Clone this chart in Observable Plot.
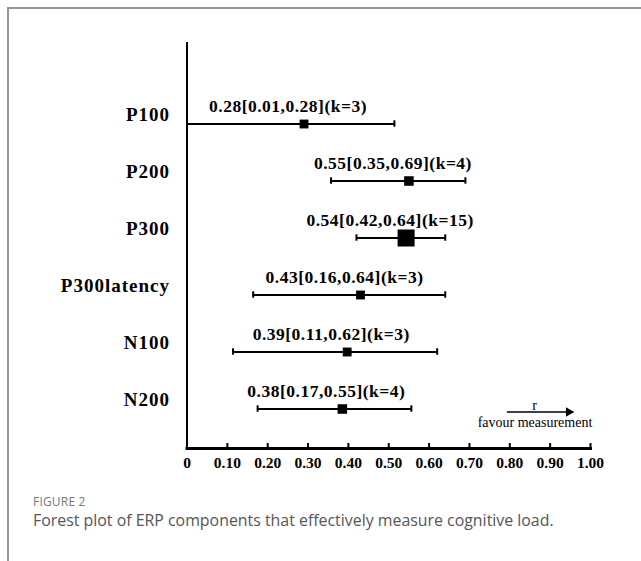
<!DOCTYPE html>
<html>
<head>
<meta charset="utf-8">
<script src="https://cdn.jsdelivr.net/npm/d3@7"></script>
<script src="https://cdn.jsdelivr.net/npm/@observablehq/plot@0.6"></script>
<style>
  html, body { margin: 0; padding: 0; background: #fff; }
  #page { position: relative; width: 641px; height: 561px; overflow: hidden; }
  #frame { position: absolute; left: 7px; top: 7px; right: -4px; bottom: -4px;
           border-top: 2px solid #959595; border-left: 2px solid #959595; }
  #chart { position: absolute; left: 0; top: 0; }
  #fig { position: absolute; left: 33px; top: 495px; font-family: "Open Sans", sans-serif;
         font-size: 12px; line-height: 14px; color: #777; letter-spacing: 0.2px; }
  #cap { position: absolute; left: 33px; top: 510px; font-family: "Open Sans", sans-serif;
         font-size: 15.9px; line-height: 20px; color: #555; white-space: nowrap; }
</style>
</head>
<body>
<div id="page">
  <div id="frame"></div>
  <div id="chart"></div>
  <div id="fig">FIGURE 2</div>
  <div id="cap">Forest plot of ERP components that effectively measure cognitive load.</div>
</div>
<script>
// ---- data ----
const components = ["P100", "P200", "P300", "P300latency", "N100", "N200"];
const estimates  = [0.29, 0.55, 0.543, 0.43, 0.397, 0.385];
const lowerCI    = [0.00, 0.357, 0.42, 0.164, 0.114, 0.175];
const upperCI    = [0.514, 0.69, 0.64, 0.64, 0.62, 0.556];
const kStudies   = [3, 4, 15, 3, 3, 4];
const annotations = [
  "0.28[0.01,0.28](k=3)",
  "0.55[0.35,0.69](k=4)",
  "0.54[0.42,0.64](k=15)",
  "0.43[0.16,0.64](k=3)",
  "0.39[0.11,0.62](k=3)",
  "0.38[0.17,0.55](k=4)"
];
const xTicks = [0, 0.1, 0.2, 0.3, 0.4, 0.5, 0.6, 0.7, 0.8, 0.9, 1.0];
const xTickLabels = ["0", "0.10", "0.20", "0.30", "0.40", "0.50", "0.60", "0.70", "0.80", "0.90", "1.00"];
const arrowLabel = "r";
const arrowCaption = "favour measurement";
const arrowFrom = [0.794];
const arrowTo = [0.946];

const rows = components.map((name, i) => ({
  name, est: estimates[i], lo: lowerCI[i], hi: upperCI[i], k: kStudies[i], label: annotations[i]
}));

const serif = "'Liberation Serif', 'Times New Roman', serif";
const capInset = 57.6 / 2 - 3.5;

const chart = Plot.plot({
  width: 641,
  height: 480,
  marginLeft: 186.5,
  marginRight: 51,
  marginTop: 42,
  marginBottom: 32,
  style: { fontFamily: serif, fontWeight: "bold", color: "black", background: "transparent" },
  x: { domain: [0, 1] },
  y: { type: "band", domain: components, range: [93.2, 438.8], padding: 0 },
  r: { type: "linear", domain: [3, 15], range: [5, 9.6] },
  marks: [
    Plot.frame({ anchor: "bottom", strokeWidth: 3, stroke: "black" }),
    Plot.ruleX([0], { strokeWidth: 2, stroke: "black" }),
    Plot.tickX(xTicks.slice(1), { x: d => d, insetTop: 401, strokeWidth: 2, stroke: "black" }),
    Plot.axisX({
      ticks: xTicks, tickSize: 0, tickPadding: 8, fontSize: 15.5, label: null,
      tickFormat: d => xTickLabels[xTicks.indexOf(d)]
    }),
    Plot.axisY({ tickSize: 0, tickPadding: 17, dy: -9, fontSize: 19, label: null }),
    Plot.ruleY(rows, { y: "name", x1: "lo", x2: "hi", strokeWidth: 2, stroke: "black" }),
    Plot.tickX(rows, { x: "lo", y: "name", insetTop: capInset, insetBottom: capInset, strokeWidth: 2, stroke: "black" }),
    Plot.tickX(rows, { x: "hi", y: "name", insetTop: capInset, insetBottom: capInset, strokeWidth: 2, stroke: "black" }),
    Plot.dot(rows, { x: "est", y: "name", r: "k", symbol: "square", fill: "black", stroke: null }),
    Plot.text(rows, { x: "est", y: "name", text: "label", dx: -16, dy: -18, fontSize: 17.5, fontWeight: "bold" }),
    Plot.ruleY(["N200"], { y: d => d, x1: () => arrowFrom[0], x2: () => arrowTo[0], dy: 3, strokeWidth: 1.5, stroke: "black" }),
    Plot.dot(["N200"], { y: d => d, x: () => arrowTo[0], dy: 3, symbol: "triangle", rotate: 90, r: 3.6, fill: "black", stroke: null }),
    Plot.text([arrowLabel], { text: d => d, frameAnchor: "bottom-right", textAnchor: "middle", lineAnchor: "middle", dx: -56, dy: -43, fontSize: 14, fontWeight: "normal" }),
    Plot.text([arrowCaption], { text: d => d, frameAnchor: "bottom-right", textAnchor: "middle", lineAnchor: "middle", dx: -55.5, dy: -26, fontSize: 14, fontWeight: "normal" })
  ]
});

document.getElementById("chart").appendChild(chart);
const svg = d3.select(chart);
svg.selectAll("text").filter(function() {
  return annotations.includes(this.textContent);
}).style("letter-spacing", "0.5px");
svg.selectAll("text").filter(function() {
  return components.includes(this.textContent);
}).style("letter-spacing", "1px");
</script>
</body>
</html>
